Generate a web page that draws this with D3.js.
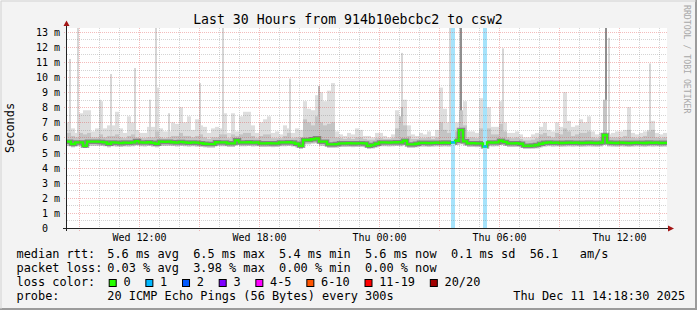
<!DOCTYPE html>
<html><head><meta charset="utf-8">
<script src="https://cdn.jsdelivr.net/npm/d3@7"></script>
<style>
body{margin:0;background:#f3f3f3}
svg text{font-family:"DejaVu Sans Mono",monospace;white-space:pre}
</style>
</head><body>
<svg id="c" width="697" height="310" xml:space="preserve"></svg>
<script>
// ---------------- DATA ----------------
const startTime = "2025-12-10T08:24";
const endTime   = "2025-12-11T14:24";
const stepMinutes = 12;

const median = [
 5.72,5.56,5.67,5.67,5.45,5.72,5.72,5.72,5.70,5.67,
 5.58,5.67,5.65,5.62,5.66,5.64,5.67,5.76,5.67,5.66,
 5.68,5.64,5.58,5.72,5.70,5.72,5.68,5.66,5.70,5.67,
 5.64,5.67,5.65,5.62,5.58,5.56,5.56,5.68,5.67,5.67,
 5.61,5.61,5.81,5.67,5.67,5.68,5.66,5.67,5.61,5.61,
 5.62,5.60,5.61,5.67,5.67,5.68,5.66,5.58,5.45,5.83,
 5.83,5.88,5.94,5.72,5.72,5.54,5.54,5.56,5.61,5.61,
 5.62,5.60,5.61,5.62,5.60,5.45,5.50,5.58,5.67,5.67,
 5.66,5.67,5.68,5.67,5.78,5.54,5.54,5.58,5.64,5.64,
 5.62,5.64,5.65,5.64,5.66,5.64,5.67,5.78,6.49,5.74,
 5.61,5.62,5.60,5.61,5.40,5.67,5.66,5.67,5.78,5.70,
 5.61,5.61,5.62,5.58,5.45,5.45,5.46,5.50,5.58,5.64,
 5.67,5.64,5.65,5.63,5.64,5.66,5.64,5.65,5.63,5.64,
 5.66,5.64,5.63,5.65,6.16,5.66,5.64,5.63,5.65,5.64,
 5.62,5.64,5.65,5.64,5.63,5.66,5.64,5.65,5.63,5.64];

const smokeMin = [
 5.45,5.35,5.42,5.42,5.30,5.45,5.45,5.45,5.44,5.42,
 5.35,5.42,5.40,5.38,5.41,5.40,5.42,5.48,5.42,5.41,
 5.43,5.40,5.35,5.45,5.44,5.45,5.43,5.41,5.44,5.42,
 5.40,5.42,5.40,5.38,5.35,5.33,5.33,5.43,5.42,5.42,
 5.37,5.37,5.50,5.42,5.42,5.43,5.41,5.42,5.37,5.37,
 5.38,5.36,5.37,5.42,5.42,5.43,5.41,5.35,5.25,5.55,
 5.55,5.60,5.62,5.45,5.45,5.32,5.32,5.33,5.37,5.37,
 5.38,5.36,5.37,5.38,5.36,5.25,5.28,5.35,5.42,5.42,
 5.41,5.42,5.43,5.42,5.50,5.32,5.32,5.35,5.40,5.40,
 5.38,5.40,5.41,5.40,5.41,5.40,5.42,5.50,5.55,5.48,
 5.37,5.38,5.36,5.37,5.20,5.42,5.41,5.42,5.50,5.45,
 5.37,5.37,5.38,5.35,5.25,5.25,5.26,5.28,5.35,5.40,
 5.42,5.40,5.41,5.39,5.40,5.41,5.40,5.41,5.39,5.40,
 5.41,5.40,5.39,5.41,5.55,5.41,5.40,5.39,5.41,5.40,
 5.38,5.40,5.41,5.40,5.39,5.41,5.40,5.41,5.39,5.40];

const smokeMid = [
 6.3,6.1,6.0,6.3,6.2,6.3,6.0,6.0,6.2,6.0,
 6.1,6.1,6.2,6.0,5.95,6.1,6.2,6.0,5.95,5.95,
 6.0,6.0,6.4,6.0,5.95,6.0,6.1,6.1,6.3,6.1,
 6.1,6.0,6.1,6.2,6.0,5.9,6.0,6.0,6.2,6.2,
 5.95,6.2,6.1,6.2,6.3,6.3,6.1,5.95,6.1,6.2,
 6.2,5.95,5.95,5.95,6.1,6.3,5.95,6.0,6.0,7.2,
 7.0,6.8,7.4,7.0,6.8,6.9,7.0,6.0,5.95,5.9,
 5.95,5.9,6.0,6.0,5.9,5.85,5.85,5.95,5.95,5.9,
 5.9,5.95,6.6,7.4,6.8,6.1,5.9,5.9,5.95,5.95,
 6.0,5.9,6.0,7.0,6.5,6.3,6.0,6.4,7.8,6.8,
 6.0,6.0,5.95,6.6,5.9,6.6,6.2,6.2,6.9,6.4,
 6.0,5.95,6.0,5.9,5.8,5.8,5.85,5.95,6.2,6.3,
 6.1,6.0,6.3,6.2,6.6,6.4,6.1,6.2,6.3,6.3,
 6.4,6.0,5.95,6.0,8.5,6.0,6.0,6.0,6.0,6.1,
 6.5,6.0,5.95,6.0,6.1,6.4,6.5,6.0,5.95,6.0];

const smokeMax = [
 7.0,6.6,6.3,7.6,7.8,7.8,6.4,6.6,8.4,6.6,
 6.8,6.8,7.7,6.6,6.3,7.4,7.0,6.5,6.3,6.3,
 6.7,6.7,9.3,6.6,6.4,6.4,7.0,6.9,8.0,7.0,
 7.4,6.5,7.2,6.8,6.7,6.3,6.6,6.7,6.6,7.6,
 6.3,7.6,6.4,7.4,7.7,7.7,6.8,6.3,7.0,7.2,
 7.4,6.3,6.4,6.2,6.8,6.6,6.3,6.6,6.5,8.4,
 7.9,7.8,8.8,9.0,8.4,9.1,9.6,6.4,6.2,6.1,
 6.3,6.2,6.6,6.5,6.1,6.1,6.0,6.3,6.3,6.1,
 6.0,6.2,7.8,7.2,8.5,6.8,6.2,6.1,6.3,6.2,
 6.4,6.1,6.5,9.3,7.9,7.0,6.2,7.0,7.0,8.4,
 6.4,6.4,6.3,8.6,6.2,8.0,6.7,6.7,8.4,7.0,
 6.3,6.3,6.4,6.2,6.0,6.0,6.2,6.3,6.7,7.0,
 6.5,6.4,7.0,6.7,9.0,7.1,6.7,6.8,7.2,7.0,
 7.4,6.4,6.2,6.3,6.4,6.2,6.3,6.4,6.4,6.5,
 8.0,6.3,6.2,6.3,6.4,6.5,7.1,6.3,6.2,6.3];

// narrow single-ping outliers: [time, top value (ms), shade]
const spikes = [
 ["2025-12-10T08:30",11.2,"l"], ["2025-12-10T08:54",13.3,"l"],
 ["2025-12-10T10:00",8.5,"l"],  ["2025-12-10T10:33",10.2,"l"],
 ["2025-12-10T11:45",10.6,"l"], ["2025-12-10T12:30",8.5,"l"],
 ["2025-12-10T12:48",13.3,"l"], ["2025-12-10T13:27",7.6,"l"],
 ["2025-12-10T15:00",9.6,"l"],  ["2025-12-10T16:09",13.3,"l"],
 ["2025-12-10T19:30",9.9,"l"],  ["2025-12-10T20:57",9.4,"m"],
 ["2025-12-11T01:06",11.6,"l"], ["2025-12-11T01:06",8.0,"m"],
 ["2025-12-11T03:30",13.3,"l"], ["2025-12-11T04:00",13.3,"l"],
 ["2025-12-11T04:03",13.3,"d"], ["2025-12-11T06:09",11.9,"l"],
 ["2025-12-11T11:18",13.3,"d"], ["2025-12-11T11:18",7.8,"k"],
 ["2025-12-11T11:27",12.6,"l"], ["2025-12-11T13:30",10.9,"l"]];

// packet loss events: [slot start time, lost pings]
const lossEvents = [["2025-12-11T03:36",1],["2025-12-11T05:12",1]];

const yTicks = [0,1,2,3,4,5,6,7,8,9,10,11,12,13];
const yTickLabels = ["0\u00a0\u00a0","1 m","2 m","3 m","4 m","5 m","6 m","7 m","8 m","9 m","10 m","11 m","12 m","13 m"];
const xTicks = ["2025-12-10T12:00","2025-12-10T18:00","2025-12-11T00:00","2025-12-11T06:00","2025-12-11T12:00"];
const xTickLabels = ["Wed 12:00","Wed 18:00","Thu 00:00","Thu 06:00","Thu 12:00"];

const lossLabels = ["0","1","2","3","4-5","6-10","11-19","20/20"];
const lossColors = ["#26ff00","#00b8ff","#0059ff","#7e00ff","#ff00ff","#ff5500","#ff0000","#a10000"];

const titleText = "Last 30 Hours from 914b10ebcbc2 to csw2";
const legendRows = [
 ["median rtt:","5.6 ms avg  6.5 ms max  5.4 ms min  5.6 ms now  0.1 ms sd  56.1   am/s"],
 ["packet loss:","0.03 % avg  3.98 % max  0.00 % min  0.00 % now"],
 ["loss color:",""],
 ["probe:","20 ICMP Echo Pings (56 Bytes) every 300s"]];
const stampText = "Thu Dec 11 14:18:30 2025";

// ---------------- DRAW ----------------
const W = 697, H = 310;
const L = 67, R = 667, T = 28, B = 228;
const parse = d3.timeParse("%Y-%m-%dT%H:%M");
const t0 = parse(startTime), t1 = parse(endTime);
const x = d3.scaleTime().domain([t0, t1]).range([L, R]);
const y = d3.scaleLinear().domain([0, 13.25]).range([B, T]);
const slotT = i => d3.timeMinute.offset(t0, i * stepMinutes);

const svg = d3.select("#c");
svg.append("rect").attr("width", W).attr("height", H).attr("fill", "#f3f3f3");
svg.append("path").attr("d", `M0,309 H696 V0`).attr("stroke", "#9b9b9b").attr("stroke-width", 2).attr("fill", "none");
svg.append("path").attr("d", `M1,309 V1 H696`).attr("stroke", "#d2d2d2").attr("stroke-width", 1).attr("fill", "none");

svg.append("defs").append("clipPath").attr("id", "plot")
  .append("rect").attr("x", L).attr("y", T).attr("width", R - L).attr("height", B - T);
svg.append("rect").attr("x", L).attr("y", T).attr("width", R - L).attr("height", B - T).attr("fill", "#fff");

const g = svg.append("g").attr("clip-path", "url(#plot)");
const idx = d3.range(median.length);

g.selectAll(".smax").data(idx).join("rect")
  .attr("x", i => x(slotT(i))).attr("width", i => x(slotT(i + 1)) - x(slotT(i)))
  .attr("y", i => y(smokeMax[i])).attr("height", i => y(smokeMin[i]) - y(smokeMax[i]))
  .attr("fill", "#dedede");
const shade = {l: "#d6d6d6", m: "#b8b8b8", d: "#8f8f8f", k: "#3c3c3c"};
g.selectAll(".spk").data(spikes).join("rect")
  .attr("x", d => x(parse(d[0])))
  .attr("width", d => x(d3.timeMinute.offset(parse(d[0]), 6)) - x(parse(d[0])))
  .attr("y", d => y(d[1])).attr("height", d => y(5.8) - y(d[1]))
  .attr("fill", d => shade[d[2]]);
g.selectAll(".smid").data(idx).join("rect")
  .attr("x", i => x(slotT(i))).attr("width", i => x(slotT(i + 1)) - x(slotT(i)))
  .attr("y", i => y(smokeMid[i])).attr("height", i => y(smokeMin[i]) - y(smokeMid[i]))
  .attr("fill", "#c4c4c4");

const pts = idx.map(i => [slotT(i), median[i]]).concat([[t1, median[median.length - 1]]]);
const line = d3.line().x(d => x(d[0])).y(d => y(d[1])).curve(d3.curveStepAfter);
g.append("path").attr("d", line(pts)).attr("fill", "none")
  .attr("stroke", "#3a3a3a").attr("stroke-width", 4.5).attr("opacity", 0.45);

const lossBand = ["#ffffff","#a6e3fb","#a6c0fb","#c9a6fb","#fba6fb","#fbc4a6","#fba6a6","#d99a9a"];
g.selectAll(".loss").data(lossEvents).join("rect")
  .attr("x", d => x(parse(d[0])))
  .attr("width", d => x(d3.timeMinute.offset(parse(d[0]), stepMinutes)) - x(parse(d[0])))
  .attr("y", T).attr("height", B - T).attr("fill", d => lossBand[d[1]]);

g.append("path").attr("d", line(pts)).attr("fill", "none")
  .attr("stroke", lossColors[0]).attr("stroke-width", 2.3);
g.selectAll(".lossmed").data(lossEvents).join("path")
  .attr("d", d => {
    const t = parse(d[0]); const i = Math.round((t - t0) / 60000 / stepMinutes);
    return `M${x(t)},${y(median[i])}H${x(d3.timeMinute.offset(t, stepMinutes))}`;
  })
  .attr("stroke", d => lossColors[d[1]]).attr("stroke-width", 2.3);

// grid (over data, like rrdtool)
const grid = svg.append("g").attr("fill", "none").attr("stroke-width", 1).attr("stroke-dasharray", "1,1");
const minorY = d3.range(0.5, 13.25, 1);
const gridMinor = "rgba(120,120,120,0.32)", gridMajor = "rgba(220,50,50,0.33)";
grid.selectAll(".gy").data(minorY).join("line")
  .attr("x1", L).attr("x2", R).attr("y1", d => Math.round(y(d)) + 0.5).attr("y2", d => Math.round(y(d)) + 0.5)
  .attr("stroke", gridMinor);
const hours = d3.timeHour.range(t0, t1);
grid.selectAll(".gx").data(hours.filter(h => h.getHours() % 3 !== 0)).join("line")
  .attr("y1", T).attr("y2", B + 2).attr("x1", d => Math.round(x(d)) + 0.5).attr("x2", d => Math.round(x(d)) + 0.5)
  .attr("stroke", gridMinor);
grid.selectAll(".gY").data(yTicks.filter(v => v > 0)).join("line")
  .attr("x1", L - 3).attr("x2", R).attr("y1", d => Math.round(y(d)) + 0.5).attr("y2", d => Math.round(y(d)) + 0.5)
  .attr("stroke", gridMajor);
grid.selectAll(".gX").data(hours.filter(h => h.getHours() % 3 === 0)).join("line")
  .attr("y1", T).attr("y2", B + 3).attr("x1", d => Math.round(x(d)) + 0.5).attr("x2", d => Math.round(x(d)) + 0.5)
  .attr("stroke", gridMajor);

svg.append("line").attr("x1", L - 4).attr("x2", R + 2).attr("y1", B + 0.5).attr("y2", B + 0.5).attr("stroke", "#222");
svg.append("line").attr("x1", L - 0.5).attr("x2", L - 0.5).attr("y1", B + 3).attr("y2", T - 2).attr("stroke", "#222");
svg.append("path").attr("d", `M${R + 1},${B - 2.5} L${R + 7},${B + 0.5} L${R + 1},${B + 3.5}Z`).attr("fill", "#a31515");
svg.append("path").attr("d", `M${L - 3.5},${T - 2} L${L - 0.5},${T - 7.5} L${L + 2.5},${T - 2}Z`).attr("fill", "#a31515");

const xa = svg.append("g").attr("transform", `translate(0,${B})`)
  .call(d3.axisBottom(x).tickValues(xTicks.map(parse)).tickFormat((d, i) => xTickLabels[i]).tickSize(0));
xa.select(".domain").remove();
xa.selectAll("text").attr("y", 13).attr("dy", null)
  .style("font-family", "DejaVu Sans Mono").style("font-size", "10px").attr("fill", "#000");

const ya = svg.append("g").attr("transform", `translate(60,0)`)
  .call(d3.axisLeft(y).tickValues(yTicks).tickFormat((d, i) => yTickLabels[i]).tickSize(0).tickPadding(0));
ya.select(".domain").remove();
ya.selectAll("text").attr("dy", "3.5").attr("x", 0)
  .style("font-family", "DejaVu Sans Mono").style("font-size", "10px").attr("fill", "#000");

svg.append("text").attr("x", 348).attr("y", 24).attr("text-anchor", "middle")
  .style("font-size", "13.2px").attr("fill", "#000").text(titleText);
svg.append("text").attr("transform", "translate(14,128) rotate(-90)").attr("text-anchor", "middle")
  .style("font-size", "11.9px").attr("fill", "#000").text("Seconds");
svg.append("text").attr("transform", "translate(684,5) rotate(90)")
  .style("font-size", "8.2px").attr("fill", "#a8a8a8").text("RRDTOOL / TOBI OETIKER");

const cw = 11.9 * 0.602;
const rowY = [257.5, 271.5, 285.5, 299.5];
legendRows.forEach((r, k) => {
  svg.append("text").attr("x", 16.5).attr("y", rowY[k]).style("font-size", "11.9px").text(r[0]);
  if (r[1]) svg.append("text").attr("x", 107.3).attr("y", rowY[k]).style("font-size", "11.9px").text(r[1]);
});
let bx = 108.7;
lossLabels.forEach((lab, k) => {
  svg.append("rect").attr("x", bx + 0.5).attr("y", 279.5).attr("width", 7).attr("height", 7)
    .attr("fill", lossColors[k]).attr("stroke", "#000");
  const tx = bx + 14.7;
  svg.append("text").attr("x", tx).attr("y", rowY[2]).style("font-size", "11.9px").text(lab);
  bx = tx + lab.length * cw + 14.8;
});
svg.append("text").attr("x", 513.3).attr("y", rowY[3]).style("font-size", "11.9px").text(stampText);
</script>
</body></html>
